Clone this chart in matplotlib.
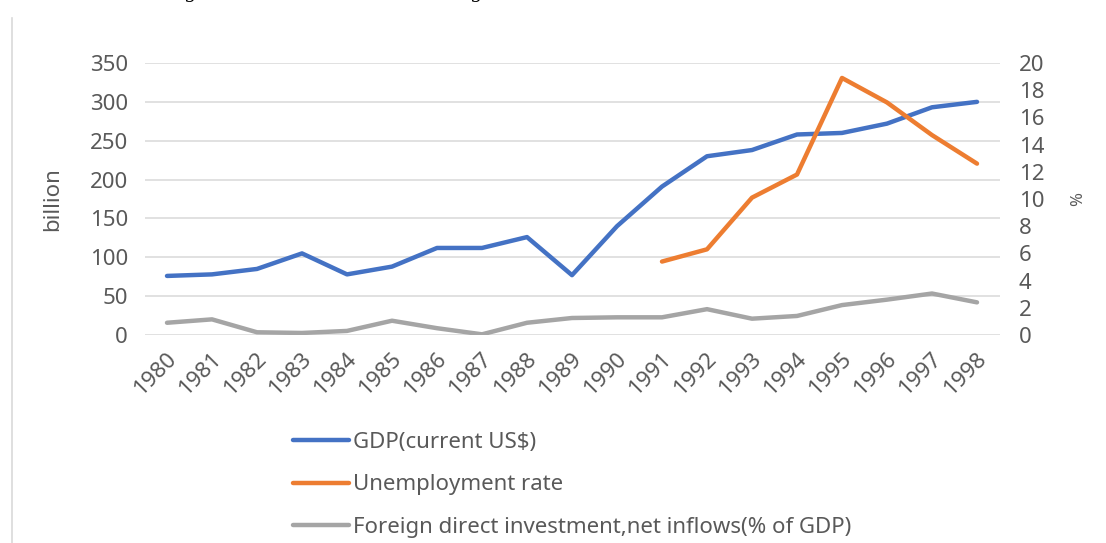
import numpy as np
import matplotlib
matplotlib.use("Agg")
import matplotlib.pyplot as plt
import matplotlib.transforms as mtransforms

plt.rcParams['font.family'] = ['Noto Sans', 'DejaVu Sans']

years = [str(y) for y in range(1980, 1999)]
gdp = [76, 78, 85, 105, 78, 88, 112, 112, 126, 77, 140, 191, 230, 238, 258, 260, 272, 293, 300]
unemployment = [np.nan] * 11 + [5.4, 6.3, 10.1, 11.8, 18.9, 17.1, 14.7, 12.6]
fdi = [0.9, 1.15, 0.2, 0.15, 0.3, 1.05, 0.5, 0.05, 0.9, 1.25, 1.3, 1.3, 1.9, 1.2, 1.4, 2.2, 2.6, 3.05, 2.4]

left_ticks = [0, 50, 100, 150, 200, 250, 300, 350]
right_ticks = list(range(0, 21, 2))
labels = ["GDP(current US$)", "Unemployment rate", "Foreign direct investment,net inflows(% of GDP)"]

blue, orange, gray = "#4472C4", "#ED7D31", "#A5A5A5"
txt = "#595959"
W, H = 1106, 543
fig = plt.figure(figsize=(W / 100, H / 100), dpi=100)
ax = fig.add_axes([144.5 / W, 1 - 335 / H, (999.5 - 144.5) / W, (335 - 63) / H])
ax2 = ax.twinx()

x = np.arange(len(years))
lw = 3.2
l1, = ax.plot(x, gdp, color=blue, lw=lw, solid_capstyle='round', solid_joinstyle='round', zorder=3)
l2, = ax2.plot(x, unemployment, color=orange, lw=lw, solid_capstyle='round', solid_joinstyle='round', zorder=3)
l3, = ax2.plot(x, fdi, color=gray, lw=lw, solid_capstyle='round', solid_joinstyle='round', zorder=3)

ax.set_xlim(-0.5, len(years) - 0.5)
ax.set_ylim(0, 350)
ax2.set_ylim(0, 20)
ax.set_yticks(left_ticks)
ax2.set_yticks(right_ticks)
ax.grid(axis='y', color='#D9D9D9', lw=1.1)
ax.set_axisbelow(True)
for a in (ax, ax2):
    for s in a.spines.values():
        s.set_visible(False)
    a.tick_params(length=0, labelsize=16, labelcolor=txt)
ax.tick_params(axis='y', pad=12)
ax2.tick_params(axis='y', pad=14)

ax.set_xticks(x)
ax.set_xticklabels(years, rotation=45, ha='right', va='top', rotation_mode='anchor')
ax.tick_params(axis='x', pad=10)
offset = mtransforms.ScaledTranslation(-1 / 100, 0, fig.dpi_scale_trans)
for lab in ax.get_xticklabels():
    lab.set_transform(lab.get_transform() + offset)

ax.set_ylabel("billion", fontsize=16, color=txt)
ax.yaxis.set_label_coords((63 - 144.5) / (999.5 - 144.5), 0.5)
ax2.set_ylabel("%", fontsize=12, color=txt, rotation=90)
ax2.yaxis.set_label_coords((1070 - 144.5) / (999.5 - 144.5), 0.5)

fig.legend([l1, l2, l3], labels, loc='upper left', bbox_to_anchor=(293 / W, 1 - 432 / H),
           frameon=False, fontsize=16, labelcolor=txt, handlelength=2.5,
           handletextpad=0.2, labelspacing=0.96, borderpad=0, borderaxespad=0)

# left page border line and clipped text above
fig.add_artist(plt.Line2D([12 / W, 12 / W], [0, 1 - 18 / H], color='#D9D9D9', lw=1.2))
fig.text(190 / W, 1 + 1.5 / H, "g", fontsize=14, color='black', ha='center', va='baseline',
         family='DejaVu Serif')
fig.text(476 / W, 1 + 1.5 / H, "g", fontsize=14, color='black', ha='center', va='baseline',
         family='DejaVu Serif')

fig.savefig("out.png", dpi=100)
